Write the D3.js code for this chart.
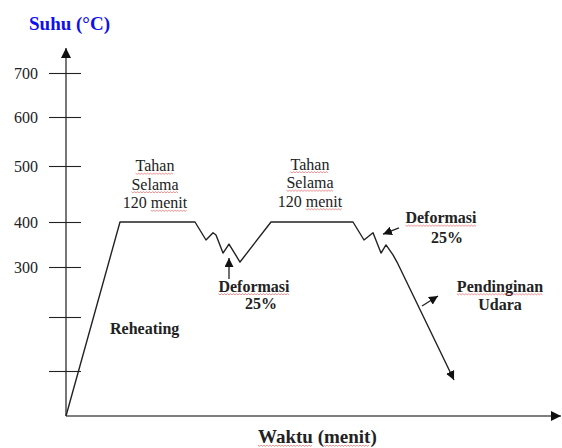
<!DOCTYPE html>
<html>
<head>
<meta charset="utf-8">
<script src="https://cdn.jsdelivr.net/npm/d3@7"></script>
<style>
  body { margin: 0; background: #fff; }
  svg text { font-family: "Liberation Serif", "Times New Roman", serif; fill: #222; }
</style>
</head>
<body>
<script>
// temperature ticks (unlabelled ones stay blank)
var tickValues = [100, 200, 300, 400, 500, 600, 700];
var tickLabels = ["", "", "300", "400", "500", "600", "700"];

// process curve: time (arbitrary units) and temperature (°C)
var timeVals = [0, 54, 129, 140, 147, 150, 157, 163, 174, 205, 287, 298, 307, 315, 320, 327, 331, 388];
var tempVals = [0, 400, 400, 360, 376, 371, 331, 351, 311, 400, 400, 360, 376, 331, 349, 327, 311, 80];

// annotation arrows [t0, T0, t1, T1]
var arrows = [[163, 276, 163, 320], [333, 387, 317, 373], [356, 222, 372, 242]];

var width = 562, height = 448;

var svg = d3.select("body").append("svg")
    .attr("width", width)
    .attr("height", height);

// axis in the drawing is not evenly spaced, so a piecewise scale
var y = d3.scaleLinear()
    .domain([0, 100, 200, 300, 400, 500, 600, 700, 760])
    .range([416, 371, 317, 267, 222, 166, 117, 73, 48]);
var x = d3.scaleLinear()
    .domain([0, 496])
    .range([66, 562]);

var defs = svg.append("defs");
function marker(id, size) {
    defs.append("marker")
        .attr("id", id)
        .attr("viewBox", "0 0 10 10")
        .attr("refX", 10).attr("refY", 5)
        .attr("markerUnits", "userSpaceOnUse")
        .attr("markerWidth", size).attr("markerHeight", size)
        .attr("orient", "auto")
        .append("path")
        .attr("d", "M0,0 L10,5 L0,10 z")
        .attr("fill", "#111");
}
marker("axisHead", 10);
marker("smallHead", 9);

// axes lines with arrow heads
svg.append("line")
    .attr("x1", x(0)).attr("y1", y(0))
    .attr("x2", x(0)).attr("y2", y(760))
    .attr("stroke", "#555").attr("stroke-width", 1.6)
    .attr("marker-end", "url(#axisHead)");
svg.append("line")
    .attr("x1", x(0)).attr("y1", y(0))
    .attr("x2", x(496) - 1).attr("y2", y(0))
    .attr("stroke", "#555").attr("stroke-width", 1.6)
    .attr("marker-end", "url(#axisHead)");

var yAxis = svg.append("g")
    .attr("transform", "translate(" + x(0) + ",0)")
    .call(d3.axisLeft(y)
        .tickValues(tickValues)
        .tickFormat(function(d, i) { return tickLabels[i]; })
        .tickSize(0)
        .tickPadding(28));
yAxis.select(".domain").remove();
yAxis.selectAll(".tick line")
    .attr("x1", -17).attr("x2", 15)
    .attr("stroke", "#222").attr("stroke-width", 1.1);
yAxis.selectAll(".tick text")
    .attr("font-family", "Liberation Serif")
    .attr("font-size", 16)
    .attr("dy", "0.34em")
    .attr("fill", "#222");

// process curve
var pts = timeVals.map(function(t, i) { return [t, tempVals[i]]; });
var line = d3.line()
    .x(function(d) { return x(d[0]); })
    .y(function(d) { return y(d[1]); });
svg.append("path")
    .datum(pts)
    .attr("d", line)
    .attr("fill", "none")
    .attr("stroke", "#222")
    .attr("stroke-width", 1.4)
    .attr("stroke-linejoin", "round")
    .attr("marker-end", "url(#smallHead)");

svg.selectAll(".ann")
    .data(arrows)
    .enter().append("line")
    .attr("class", "ann")
    .attr("x1", function(d) { return x(d[0]); })
    .attr("y1", function(d) { return y(d[1]); })
    .attr("x2", function(d) { return x(d[2]); })
    .attr("y2", function(d) { return y(d[3]); })
    .attr("stroke", "#222").attr("stroke-width", 1.3)
    .attr("marker-end", "url(#smallHead)");

// text labels: [text, x, baseline y, size, bold, anchor, words to squiggle]
var labels = [
    ["Suhu (°C)", 29, 30, 19, true, "start", []],
    ["Tahan", 155, 171, 16, false, "middle", ["Tahan"]],
    ["Selama", 155, 189.5, 16, false, "middle", ["Selama"]],
    ["120 menit", 155, 208, 16, false, "middle", ["menit"]],
    ["Tahan", 310, 169.5, 16, false, "middle", ["Tahan"]],
    ["Selama", 310, 188, 16, false, "middle", ["Selama"]],
    ["120 menit", 310, 206.5, 16, false, "middle", ["menit"]],
    ["Deformasi", 254, 291.5, 16, true, "middle", ["Deformasi"]],
    ["25%", 261, 309, 16, true, "middle", []],
    ["Deformasi", 441, 223, 16, true, "middle", ["Deformasi"]],
    ["25%", 447, 242.5, 16, true, "middle", []],
    ["Pendinginan", 500, 291.5, 16, true, "middle", ["Pendinginan"]],
    ["Udara", 500, 310, 16, true, "middle", []],
    ["Reheating", 110, 334, 16, true, "start", []],
    ["Waktu (menit)", 258, 443, 19, true, "start", ["Waktu", "menit"]]
];

labels.forEach(function(l) {
    var t = svg.append("text")
        .attr("x", l[1]).attr("y", l[2])
        .attr("font-size", l[3])
        .attr("font-weight", l[4] ? "bold" : "normal")
        .attr("text-anchor", l[5])
        .text(l[0]);
    if (l[0] === "Suhu (°C)") t.style("fill", "#1010ee");
    var node = t.node();
    l[6].forEach(function(w) {
        var i = l[0].indexOf(w);
        var x0 = node.getStartPositionOfChar(i).x;
        var x1 = node.getEndPositionOfChar(i + w.length - 1).x;
        var d = "", k = 0;
        for (var xx = x0; xx <= x1; xx += 1.5, k++) {
            d += (k === 0 ? "M" : "L") + xx.toFixed(1) + "," + (l[2] + (k % 2 ? 3.3 : 2.2)).toFixed(1);
        }
        svg.append("path")
            .attr("d", d)
            .attr("fill", "none")
            .attr("stroke", "#e03a3a")
            .attr("stroke-width", 0.7)
            .attr("opacity", 0.8);
    });
});
</script>
</body>
</html>
